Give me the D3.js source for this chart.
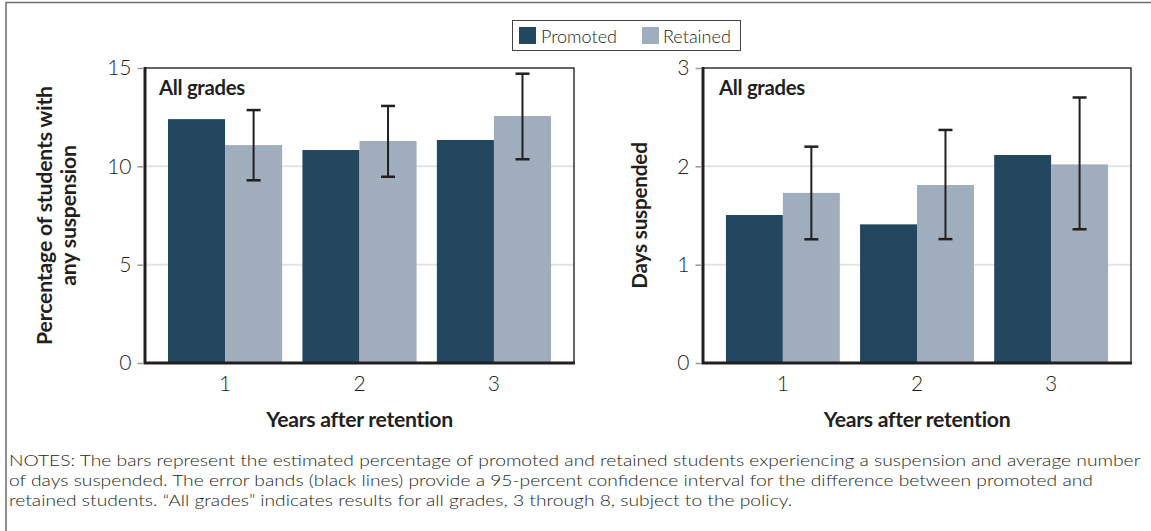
<!DOCTYPE html>
<html>
<head>
<meta charset="utf-8">
<script src="https://cdn.jsdelivr.net/npm/d3@7"></script>
<style>
  html, body { margin: 0; padding: 0; background: #fff; }
  svg { display: block; }
  text { fill: #231f20; }
</style>
</head>
<body>
<svg id="chart" width="1151" height="531"></svg>
<script>
// ---------------- data ----------------
const years = ["1", "2", "3"];
const seriesNames = ["Promoted", "Retained"];

const suspPromoted = [12.40, 10.83, 11.34];
const suspRetained = [11.08, 11.29, 12.56];
const suspCILow    = [9.29, 9.47, 10.36];
const suspCIHigh   = [12.86, 13.07, 14.71];

const daysPromoted = [1.505, 1.41, 2.115];
const daysRetained = [1.73, 1.81, 2.02];
const daysCILow    = [1.258, 1.26, 1.36];
const daysCIHigh   = [2.20, 2.37, 2.70];

const suspTicks = [0, 5, 10, 15];
const daysTicks = [0, 1, 2, 3];

const panelLabel = "All grades";
const xTitle = "Years after retention";
const suspYTitle = ["Percentage of students with", "any suspension"];
const daysYTitle = ["Days suspended"];
const notes = [
  "NOTES: The bars represent the estimated percentage of promoted and retained students experiencing a suspension and average number",
  "of days suspended. The error bands (black lines) provide a 95-percent confidence interval for the difference between promoted and",
  "retained students. \u201CAll grades\u201D indicates results for all grades, 3 through 8, subject to the policy."
];

// ---------------- style ----------------
const colors = { Promoted: "#22475f", Retained: "#9fadbd" };
const ink = "#231f20";
const lightFont = "Lato, 'Open Sans', sans-serif";
const boldFont = "Lato, 'Open Sans', sans-serif";

const svg = d3.select("#chart");

// outer frame
svg.append("path")
  .attr("d", "M6,531 V2.5 H1151")
  .attr("fill", "none").attr("stroke", "#6d6d6d").attr("stroke-width", 1.5);

function fitFont(sel, target, base) {
  let maxW = 0;
  sel.each(function () { maxW = Math.max(maxW, this.getComputedTextLength()); });
  const fs = base * target / maxW;
  sel.style("font-size", fs + "px");
  return fs;
}

function panel(cfg) {
  const { x0, x1, top, bottom, domainMax, ticks, prom, ret, lo, hi, yTitle, yTitleX, labelX } = cfg;
  const g = svg.append("g");

  const x = d3.scaleBand().domain(years).range([x0, x1]).paddingInner(0.151).paddingOuter(0.171);
  const xs = d3.scaleBand().domain(seriesNames).range([0, x.bandwidth()]);
  const y = d3.scaleLinear().domain([0, domainMax]).range([bottom, top]);

  g.append("g").selectAll("line")
    .data(ticks.filter(t => t > 0 && t < domainMax))
    .join("line")
    .attr("x1", x0).attr("x2", x1)
    .attr("y1", d => y(d)).attr("y2", d => y(d))
    .attr("stroke", "#e3e3e3").attr("stroke-width", 2);

  const rows = years.map((yr, i) => ({ yr, Promoted: prom[i], Retained: ret[i], lo: lo[i], hi: hi[i] }));
  const grp = g.append("g").selectAll("g").data(rows).join("g")
    .attr("transform", d => `translate(${x(d.yr)},0)`);
  grp.selectAll("rect")
    .data(d => seriesNames.map(s => ({ s, v: d[s] })))
    .join("rect")
    .attr("x", d => xs(d.s))
    .attr("width", xs.bandwidth())
    .attr("y", d => y(d.v))
    .attr("height", d => y(0) - y(d.v))
    .attr("fill", d => colors[d.s]);

  const cx = d => x(d.yr) + xs("Retained") + xs.bandwidth() / 2;
  const eb = g.append("g").selectAll("g").data(rows).join("g");
  eb.append("line")
    .attr("x1", cx).attr("x2", cx)
    .attr("y1", d => y(d.lo)).attr("y2", d => y(d.hi))
    .attr("stroke", ink).attr("stroke-width", 2);
  ["lo", "hi"].forEach(k => {
    eb.append("line")
      .attr("x1", d => cx(d) - 7).attr("x2", d => cx(d) + 7)
      .attr("y1", d => y(d[k])).attr("y2", d => y(d[k]))
      .attr("stroke", ink).attr("stroke-width", 2.5);
  });

  g.append("path").attr("d", `M${x0},${top} H${x1} V${bottom}`)
    .attr("fill", "none").attr("stroke", "#333").attr("stroke-width", 1.5);
  g.append("path").attr("d", `M${x0},${top - 1} V${bottom} H${x1 + 1}`)
    .attr("fill", "none").attr("stroke", ink).attr("stroke-width", 3);

  const ya = g.append("g").attr("transform", `translate(${x0 - 1.5},0)`)
    .call(d3.axisLeft(y).tickValues(ticks).tickSize(6).tickPadding(6).tickFormat(d3.format("d")));
  ya.select(".domain").remove();
  ya.selectAll(".tick line").attr("stroke", "#9a9a9a").attr("stroke-width", 1.5);
  ya.selectAll(".tick text").attr("fill", ink).style("font-family", lightFont)
    .style("font-size", "21px").style("font-weight", 300);

  const xa = g.append("g").attr("transform", `translate(0,${bottom})`)
    .call(d3.axisBottom(x).tickSize(0).tickPadding(13));
  xa.select(".domain").remove();
  xa.selectAll(".tick text").attr("fill", ink).style("font-family", lightFont)
    .style("font-size", "21px").style("font-weight", 300);

  const xt = g.append("text").attr("x", (x0 + x1) / 2).attr("y", 427)
    .attr("text-anchor", "middle").style("font-family", boldFont).style("font-weight", 700)
    .style("font-size", "19px").style("letter-spacing", "-0.3px").text(xTitle);
  fitFont(xt, 186, 19);

  const pl = g.append("text").attr("x", labelX).attr("y", 95)
    .style("font-family", boldFont).style("font-weight", 700).style("font-size", "20px")
    .style("letter-spacing", "-0.3px").text(panelLabel);
  fitFont(pl, 86, 20);

  const yt = g.append("g").attr("transform", `translate(${yTitleX},${(top + bottom) / 2}) rotate(-90)`);
  const ytt = yt.selectAll("text").data(yTitle).join("text")
    .attr("x", 0).attr("y", (d, i) => i * 24 - (yTitle.length - 1) * 12 + 7)
    .attr("text-anchor", "middle").style("font-family", boldFont).style("font-weight", 700)
    .style("font-size", "18px").style("letter-spacing", "-0.2px").text(d => d);
  return { g, ytt };
}

const L = panel({ x0: 145, x1: 574, top: 68, bottom: 363, domainMax: 15, ticks: suspTicks,
  prom: suspPromoted, ret: suspRetained, lo: suspCILow, hi: suspCIHigh,
  yTitle: suspYTitle, yTitleX: 57, labelX: 159 });
fitFont(L.ytt, 258, 18);

const R = panel({ x0: 703, x1: 1131, top: 68, bottom: 363, domainMax: 3, ticks: daysTicks,
  prom: daysPromoted, ret: daysRetained, lo: daysCILow, hi: daysCIHigh,
  yTitle: daysYTitle, yTitleX: 640, labelX: 719 });
fitFont(R.ytt, 146, 18);

// legend
const lg = svg.append("g");
lg.append("rect").attr("x", 512.5).attr("y", 20.5).attr("width", 228).attr("height", 30)
  .attr("fill", "#fff").attr("stroke", "#444").attr("stroke-width", 1);
const legendPos = [{ s: "Promoted", sx: 519, tx: 541 }, { s: "Retained", sx: 642, tx: 663 }];
legendPos.forEach(p => {
  lg.append("rect").attr("x", p.sx).attr("y", 27).attr("width", 17).attr("height", 17).attr("fill", colors[p.s]);
  lg.append("text").attr("x", p.tx).attr("y", 42.5).style("font-family", lightFont)
    .style("font-size", "18px").style("font-weight", 300).text(p.s);
});

// notes: fixed font size, horizontally fitted so the first line spans the reference width
const notesG = svg.append("g");
const nt = notesG.selectAll("text").data(notes).join("text")
  .attr("x", 0).attr("y", (d, i) => 466 + i * 20)
  .style("font-family", lightFont).style("font-weight", 300).style("font-size", "16px").text(d => d);
let nW = 0;
nt.each(function () { nW = Math.max(nW, this.getComputedTextLength()); });
notesG.attr("transform", `translate(9,0) scale(${1132 / nW},1)`);
</script>
</body>
</html>
